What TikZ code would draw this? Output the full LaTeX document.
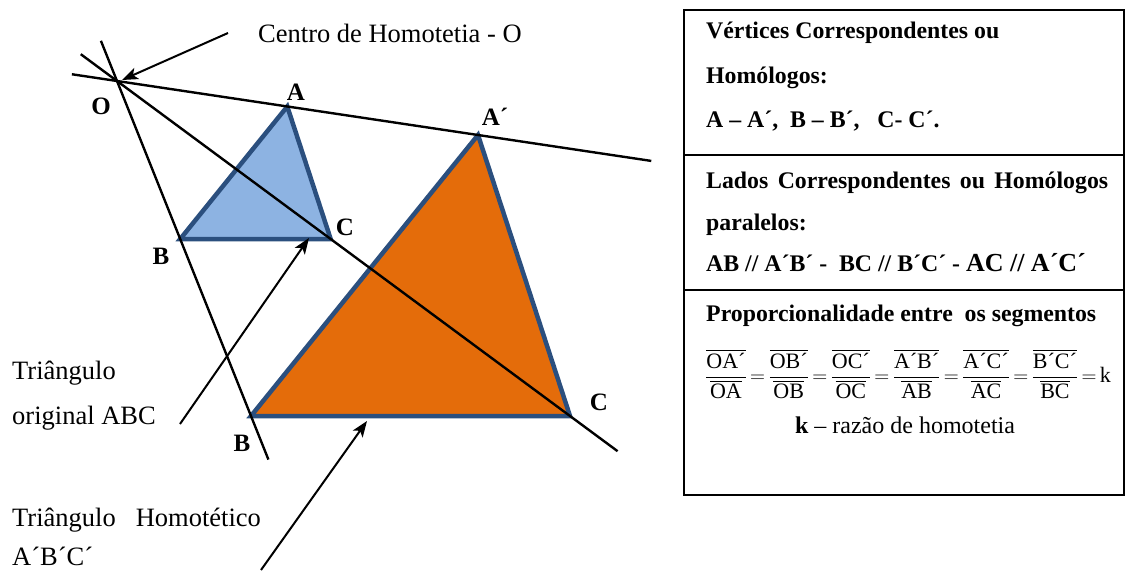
\documentclass[tikz,border=0pt]{standalone}
\usepackage{amsmath}
\usepackage{fontspec}
\setmainfont{Liberation Serif}
\usetikzlibrary{calc,arrows.meta}
\definecolor{tribord}{HTML}{2B4F7E}
\definecolor{smallfill}{HTML}{8DB3E2}
\definecolor{bigfill}{HTML}{E46C0A}
\newcommand{\hfrac}[2]{\dfrac{\overline{\text{#1}}\rule[-6pt]{0pt}{6pt}}{\overline{\text{#2}}}}
\begin{document}
\begin{tikzpicture}[x=1pt,y=-1pt,
  txt/.style={inner sep=0pt,font=\fontsize{26.5}{30}\selectfont},
  vlab/.style={inner sep=0pt,font=\fontsize{25}{29}\selectfont\bfseries},
  boxtxt/.style={inner sep=0pt,anchor=west,font=\fontsize{23.8}{28}\selectfont\bfseries},
  ray/.style={line width=2.4pt,black},
  tri/.style={line width=4.5pt,draw=tribord,line join=miter},
  pointer/.style={line width=2pt,-{Stealth[length=16pt,width=12pt,inset=4pt]}},
  frame/.style={line width=2pt},
  divider/.style={line width=2.6pt}]
\useasboundingbox (0,0) rectangle (1126,572);
% centre and homothetic triangle
\coordinate (O) at (117,81);
\coordinate (A2) at (478,135);
\coordinate (B2) at (251,416);
\coordinate (C2) at (570,416);
\coordinate (A) at ($(O)!1/2.12!(A2)$);
\coordinate (B) at ($(O)!1/2.12!(B2)$);
\coordinate (C) at ($(O)!1/2.12!(C2)$);
% triangles
\filldraw[tri,fill=smallfill] (A) -- (B) -- (C) -- cycle;
\filldraw[tri,fill=bigfill] (A2) -- (B2) -- (C2) -- cycle;
% rays
\coordinate (r1s) at ($(O)!-0.125!(A2)$);
\coordinate (r1e) at ($(O)!1.48!(A2)$);
\coordinate (r2s) at ($(O)!-0.12!(B2)$);
\coordinate (r2e) at ($(O)!1.13!(B2)$);
\coordinate (r3s) at ($(O)!-0.08!(C2)$);
\coordinate (r3e) at ($(O)!1.105!(C2)$);
\draw[ray] (r1s) -- (r1e);
\draw[ray] (r2s) -- (r2e);
\draw[ray] (r3s) -- (r3e);
% vertex labels
\node[vlab] (lO) at (101,106) {O};
\node[vlab] (lA) at (296,92) {A};
\node[vlab] (lA2) at (495,117) {A´};
\node[vlab] (lB) at (161,256) {B};
\node[vlab] (lC) at (345,227) {C};
\node[vlab] (lB2) at (242,443) {B};
\node[vlab] (lC2) at (599,402) {C};
% side texts
\node[txt,anchor=west] (centro) at (258,33) {Centro de Homotetia - O};
\node[txt,anchor=west] (orig1) at (12,373) {Triângulo};
\node[txt,anchor=west] (orig2) at (12,418) {original ABC};
\node[txt,anchor=west] (hom1) at (12,520) {Triângulo\hspace{20pt}Homotético};
\node[txt,anchor=west] (hom2) at (12,556) {A´B´C´};
% pointers
\coordinate (pc1) at (228,33);
\coordinate (pc2) at (122,80);
\coordinate (po1) at (180,424);
\coordinate (po2) at (309,238);
\coordinate (ph1) at (261,570);
\coordinate (ph2) at (367,421);
\draw[pointer] (pc1) -- (pc2);
\draw[pointer] (po1) -- (po2);
\draw[pointer] (ph1) -- (ph2);
% information box
\draw[frame] (684,10) rectangle (1124,495);
\draw[divider] (684,155) -- (1124,155);
\draw[divider] (684,290) -- (1124,290);
\node[boxtxt] (v1) at (706,33) {Vértices Correspondentes ou};
\node[boxtxt] (v2) at (706,78) {Homólogos:};
\node[boxtxt] (v3) at (706,121) {A – A´,\ \ B – B´,\ \ \ C- C´.};
\node[boxtxt] (l1) at (706,183) {\makebox[402pt][s]{Lados Correspondentes ou Homólogos}};
\node[boxtxt] (l2) at (706,225) {paralelos:};
\node[boxtxt] (l3) at (706,263) {AB // A´B´ -\ \ BC // B´C´ - {\fontsize{26}{30}\selectfont AC // A´C´}};
\node[boxtxt] (p1) at (706,316) {Proporcionalidade entre\ \ os segmentos};
\node[inner sep=0pt,anchor=west,font=\fontsize{22}{26}\selectfont] (p2) at (705,374)
  {\thickmuskip=3mu$\hfrac{OA´}{OA}=\hfrac{OB´}{OB}=\hfrac{OC´}{OC}=
    \hfrac{A´B´}{AB}=\hfrac{A´C´}{AC}=\hfrac{B´C´}{BC}=\text{k}$};
\node[txt,font=\fontsize{24}{28}\selectfont] (p3) at (905,425) {\textbf{k} – razão de homotetia};
\end{tikzpicture}
\end{document}
